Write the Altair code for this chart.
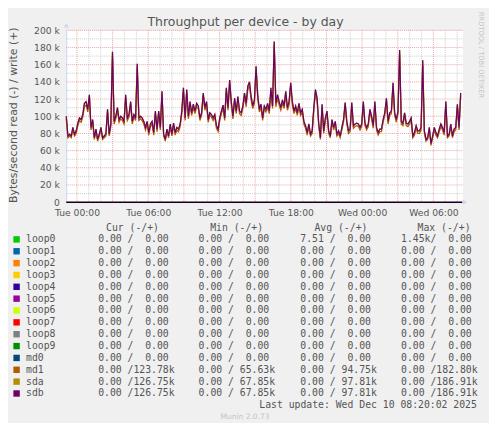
import altair as alt
import pandas as pd

# ---------------- data ----------------
SAMPLE_START = "2025-12-08 23:06:00"   # first sample (local time)
SAMPLE_STEP = "500s"

# write throughput (k bytes/s)
sdb_write_k = [
    100, 77, 79, 77, 87, 79, 83, 92, 98, 96,
    102, 115, 117, 108, 125, 87, 96, 75, 85, 73,
    79, 87, 75, 77, 79, 108, 79, 91, 175, 94,
    100, 110, 96, 100, 98, 94, 125, 98, 102, 117,
    94, 102, 98, 161, 98, 100, 98, 94, 87, 94,
    81, 91, 94, 81, 106, 85, 106, 87, 129, 79,
    73, 85, 77, 91, 79, 92, 81, 87, 85, 91,
    106, 133, 98, 131, 100, 117, 104, 114, 106, 115,
    112, 98, 104, 127, 110, 117, 96, 104, 102, 98,
    102, 89, 85, 98, 106, 113, 98, 133, 110, 142,
    117, 100, 121, 106, 123, 106, 104, 112, 127, 115,
    135, 140, 123, 112, 119, 158, 125, 108, 114, 98,
    112, 108, 115, 106, 133, 112, 187, 115, 125, 117,
    110, 119, 112, 129, 110, 117, 139, 117, 106, 112,
    104, 115, 104, 108, 94, 89, 81, 91, 79, 83,
    110, 131, 121, 91, 75, 114, 83, 98, 106, 83,
    77, 96, 87, 94, 79, 83, 77, 87, 96, 116,
    94, 83, 85, 116, 89, 91, 92, 91, 87, 91,
    117, 92, 87, 91, 108, 100, 89, 117, 87, 81,
    85, 85, 96, 104, 121, 94, 104, 106, 139, 104,
    96, 106, 177, 94, 92, 104, 92, 91, 94, 98,
    77, 81, 89, 83, 83, 87, 165, 83, 73, 75,
    87, 68, 77, 87, 81, 77, 85, 91, 87, 81,
    117, 77, 79, 91, 77, 85, 87, 114, 87, 127,
]
md1_write_k = [
    97, 75, 77, 75, 84, 77, 80, 89, 95, 93,
    99, 111, 113, 105, 121, 84, 93, 73, 82, 71,
    77, 84, 73, 75, 77, 105, 77, 88, 170, 91,
    97, 107, 93, 97, 95, 91, 121, 95, 99, 113,
    91, 99, 95, 156, 95, 97, 95, 91, 84, 91,
    78, 88, 91, 78, 103, 82, 103, 84, 125, 77,
    71, 82, 75, 88, 77, 89, 78, 84, 82, 88,
    103, 129, 95, 127, 97, 113, 101, 110, 103, 111,
    109, 95, 101, 123, 107, 113, 93, 101, 99, 95,
    99, 86, 82, 95, 103, 109, 95, 129, 107, 138,
    113, 97, 117, 103, 119, 103, 101, 109, 123, 111,
    131, 136, 119, 109, 115, 153, 121, 105, 110, 95,
    109, 105, 111, 103, 129, 109, 183, 111, 121, 113,
    107, 115, 109, 125, 107, 113, 135, 113, 103, 109,
    101, 111, 101, 105, 91, 86, 78, 88, 77, 80,
    107, 127, 117, 88, 73, 110, 80, 95, 103, 80,
    75, 93, 84, 91, 77, 80, 75, 84, 93, 112,
    91, 80, 82, 112, 86, 88, 89, 88, 84, 88,
    113, 89, 84, 88, 105, 97, 86, 113, 84, 78,
    82, 82, 93, 101, 117, 91, 101, 103, 135, 101,
    93, 103, 172, 91, 89, 101, 89, 88, 91, 95,
    75, 78, 86, 80, 80, 84, 160, 80, 71, 73,
    84, 66, 75, 84, 78, 75, 82, 88, 84, 78,
    113, 75, 77, 88, 75, 82, 84, 110, 84, 124,
]
sda_write_k = list(sdb_write_k)   # identical to sdb per the legend
read_level = [0]                  # all reads are zero

devices = ["loop0", "loop1", "loop2", "loop3", "loop4", "loop5", "loop6",
           "loop7", "loop8", "loop9", "md0", "md1", "sda", "sdb"]
device_colors = ["#00CC00", "#0066B3", "#FF8000", "#FFCC00", "#330099", "#990099",
                 "#CCFF00", "#FF0000", "#808080", "#008F00", "#00487D", "#B35A00",
                 "#B38F00", "#6B006B"]
cur_read = [0] * 14
cur_write = [0] * 11 + [123780, 126750, 126750]
min_read = [0] * 14
min_write = [0] * 11 + [65630, 67850, 67850]
avg_read = [7.51] + [0] * 13
avg_write = [0] * 11 + [94750, 97810, 97810]
max_read = [1450] + [0] * 13
max_write = [0] * 11 + [182800, 186910, 186910]

stat_headers = ["Cur (-/+)", "Min (-/+)", "Avg (-/+)", "Max (-/+)"]
y_tick_values = list(range(0, 200001, 20000))
x_label_times = ["2025-12-09 00:00", "2025-12-09 06:00", "2025-12-09 12:00",
                 "2025-12-09 18:00", "2025-12-10 00:00", "2025-12-10 06:00"]
title_text = "Throughput per device - by day"
y_title_text = "Bytes/second read (-) / write (+)"
side_text = "RRDTOOL / TOBI OETIKER"
update_text = "Last update: Wed Dec 10 08:20:02 2025"
version_text = "Munin 2.0.73"

# ---------------- helpers ----------------
def dt(s):
    t = pd.Timestamp(s)
    return alt.DateTime(year=t.year, month=t.month, date=t.day,
                        hours=t.hour, minutes=t.minute, seconds=t.second)

def si(v):
    return (v / 1000.0, "k") if v >= 1000 else (v, "")

def cell(r, w):
    rv, ru = si(r)
    wv, wu = si(w)
    s = f"{rv:.2f}{ru or ' '}/{wv:6.2f}{wu}"
    return s.replace(" ", "\u00a0")

FONT = "DejaVu Sans"
MONO = "DejaVu Sans Mono"
TXT = "#555555"
AXIS_COL = "#CFD6F8"

W, H = 401, 174
x_scale = alt.Scale(domain=[dt("2025-12-08 23:06:00"), dt("2025-12-10 08:26:00")])
y_scale = alt.Scale(domain=[0, 200000], nice=False, zero=False)

x_axis = alt.Axis(values=[dt(s) for s in x_label_times], format="%a %H:%M",
                  labelFont=FONT, labelFontSize=9.3, labelColor=TXT, labelPadding=6.2,
                  ticks=False, grid=False, domain=True, domainColor=AXIS_COL,
                  labelOverlap=False, labelFlush=False, title=None)
y_axis = alt.Axis(values=y_tick_values,
                  labelExpr="datum.value == 0 ? '0' : (datum.value / 1000) + ' k'",
                  labelFont=FONT, labelFontSize=9.3, labelColor=TXT, labelPadding=7,
                  ticks=False, grid=False, domain=True, domainColor=AXIS_COL,
                  labelOverlap=False, labelFlush=False, title=None)

def X(field="t:T"):
    return alt.X(field, scale=x_scale, axis=x_axis)

def Y(field="v:Q"):
    return alt.Y(field, scale=y_scale, axis=y_axis)

times = pd.date_range(SAMPLE_START, periods=len(sdb_write_k), freq=SAMPLE_STEP)

def series_df(vals_k):
    return pd.DataFrame({"t": times, "v": [v * 1000 for v in vals_k]})

hours = pd.date_range("2025-12-09 00:00", "2025-12-10 08:00", freq="1h")
x_major = pd.DataFrame({"t": [h for h in hours if h.hour % 3 == 0]})
x_minor = pd.DataFrame({"t": [h for h in hours if h.hour % 3 != 0]})
y_major = pd.DataFrame({"v": y_tick_values})
y_minor = pd.DataFrame({"v": [v + 10000 for v in y_tick_values[:-1]]})

MINOR_COL = "#cdcdcd"
MAJOR_COL = "#e9a5a5"

xg_minor = alt.Chart(x_minor).mark_rule(color=MINOR_COL, strokeDash=[1, 1], strokeWidth=1).encode(x=X())
yg_minor = alt.Chart(y_minor).mark_rule(color=MINOR_COL, strokeDash=[1, 1], strokeWidth=1).encode(y=Y())
xg_major = alt.Chart(x_major).mark_rule(color=MAJOR_COL, strokeDash=[1, 1], strokeWidth=1).encode(x=X())
yg_major = alt.Chart(y_major).mark_rule(color=MAJOR_COL, strokeDash=[1, 1], strokeWidth=1).encode(y=Y())

md1_line = alt.Chart(series_df(md1_write_k)).mark_line(color="#B35A00", strokeWidth=1.3).encode(x=X(), y=Y())
sda_line = alt.Chart(series_df(sda_write_k)).mark_line(color="#B38F00", strokeWidth=1.3).encode(x=X(), y=Y())
sdb_line = alt.Chart(series_df(sdb_write_k)).mark_line(color="#6B006B", strokeWidth=1.2).encode(x=X(), y=Y())

zero_line = alt.Chart(pd.DataFrame({"v": read_level})).mark_rule(
    color="#1a001a", strokeWidth=1.6).encode(y=Y())

arrow_up = alt.Chart(pd.DataFrame({"a": [0]})).mark_point(
    shape="triangle-up", filled=True, size=28, color=AXIS_COL, opacity=1).encode(
    x=alt.X(datum=dt("2025-12-08 23:06:00"), type="temporal", scale=x_scale, axis=x_axis),
    y=alt.Y(datum=206000, type="quantitative", scale=y_scale, axis=y_axis))
arrow_right = alt.Chart(pd.DataFrame({"a": [0]})).mark_point(
    shape="triangle-right", filled=True, size=28, color=AXIS_COL, opacity=1).encode(
    x=alt.X(datum=dt("2025-12-10 08:39:00"), type="temporal", scale=x_scale, axis=x_axis),
    y=alt.Y(datum=0, type="quantitative", scale=y_scale, axis=y_axis))

one = pd.DataFrame({"a": [0]})
title_mark = alt.Chart(one).mark_text(text=title_text, font=FONT, fontSize=12.6, color=TXT,
                                      align="center", baseline="middle").encode(
    x=alt.value(181.5), y=alt.value(-8.7))
ytitle_mark = alt.Chart(one).mark_text(text=y_title_text, font=FONT, fontSize=11, color=TXT,
                                       align="center", baseline="middle", angle=270).encode(
    x=alt.value(-52.5), y=alt.value(86))
side_mark = alt.Chart(one).mark_text(text=side_text, font=FONT, fontSize=6.8, color="#c4c4c4",
                                     align="center", baseline="middle", angle=90).encode(
    x=alt.value(419.8), y=alt.value(25))

plot = alt.layer(xg_minor, yg_minor, xg_major, yg_major, md1_line, sda_line, sdb_line,
                 zero_line, arrow_up, arrow_right, title_mark, ytitle_mark, side_mark)

# ---------------- legend table ----------------
leg = pd.DataFrame({
    "row": list(range(len(devices))),
    "name": devices,
    "color": device_colors,
    "cur": [cell(r, w) for r, w in zip(cur_read, cur_write)],
    "min": [cell(r, w) for r, w in zip(min_read, min_write)],
    "avg": [cell(r, w) for r, w in zip(avg_read, avg_write)],
    "max": [cell(r, w) for r, w in zip(max_read, max_write)],
})
leg_scale = alt.Scale(domain=[0, 13], range=[211.7, 367.7], nice=False, zero=False)
ly = alt.Y("row:Q", scale=leg_scale, axis=None)

swatch = alt.Chart(leg).mark_square(size=42, opacity=1).encode(
    x=alt.value(-50.3), y=ly, color=alt.Color("color:N", scale=None, legend=None))
text_kw = dict(font=MONO, fontSize=9.9, color=TXT, align="left", baseline="middle")
names = alt.Chart(leg).mark_text(**text_kw).encode(x=alt.value(-40.7), y=ly, text="name:N")
col_x = {"cur": 32.3, "min": 134.0, "avg": 237.0, "max": 339.0}
cols = [alt.Chart(leg).mark_text(**text_kw).encode(x=alt.value(px), y=ly, text=f"{c}:N")
        for c, px in col_x.items()]
head_x = [40.3, 145.7, 251.3, 355.7]
heads = [alt.Chart(pd.DataFrame({"row": [-1], "h": [h]})).mark_text(**text_kw).encode(
    x=alt.value(px), y=ly, text="h:N") for h, px in zip(stat_headers, head_x)]
update_mark = alt.Chart(pd.DataFrame({"row": [14], "h": [update_text]})).mark_text(
    font=MONO, fontSize=9.9, color=TXT, align="right", baseline="middle").encode(
    x=alt.value(415.7), y=ly, text="h:N")
version_mark = alt.Chart(pd.DataFrame({"row": [15], "h": [version_text]})).mark_text(
    font=FONT, fontSize=7.6, color="#c4c4c4", align="center", baseline="middle").encode(
    x=alt.value(181.0), y=ly, text="h:N")

legend_layer = alt.layer(swatch, names, *cols, *heads, update_mark, version_mark)

chart = alt.layer(plot, legend_layer).resolve_scale(y="independent").properties(
    width=W, height=H,
    padding={"left": 59, "top": 20, "right": 27, "bottom": 221},
    autosize=alt.AutoSizeParams(type="none"),
    background="#F0F0F0",
).configure_view(fill="white", stroke="transparent")

chart.save("out.html", embed_options={"renderer": "svg", "actions": False})
